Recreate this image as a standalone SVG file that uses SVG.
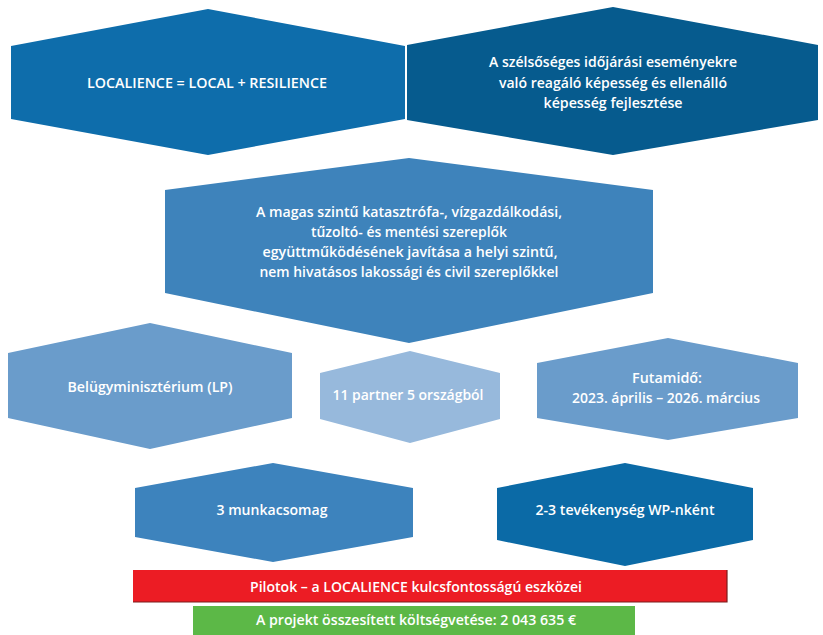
<svg xmlns="http://www.w3.org/2000/svg" width="823" height="635" viewBox="0 0 823 635">
<style>
.t{font-family:"Open Sans","Liberation Sans",Arial,sans-serif;font-weight:600;font-size:15px;fill:#ffffff;text-anchor:middle}
</style>
<rect x="0" y="0" width="823" height="635" fill="#ffffff"/>
<g id="connectors"/>
<g id="node-localience">
<polygon points="11,46 208,9 405,46 405,119 208,155 11,119" fill="#0e6dab"/>
<text class="t" x="207" y="88" textLength="240" lengthAdjust="spacingAndGlyphs">LOCALIENCE = LOCAL + RESILIENCE</text>
</g>
<g id="node-goal">
<polygon points="407,45 613,7 818,45 818,120 613,155 407,120" fill="#065b8e"/>
<text class="t" x="613" y="67" textLength="248" lengthAdjust="spacingAndGlyphs">A szélsőséges időjárási eseményekre</text>
<text class="t" x="613" y="88" textLength="228" lengthAdjust="spacingAndGlyphs">való reagáló képesség és ellenálló</text>
<text class="t" x="613" y="108" textLength="139" lengthAdjust="spacingAndGlyphs">képesség fejlesztése</text>
</g>
<g id="node-cooperation">
<polygon points="165,190 409,158 653,190 653,293 409,343 165,293" fill="#3e83bb"/>
<text class="t" x="409" y="217" textLength="306" lengthAdjust="spacingAndGlyphs">A magas szintű katasztrófa-, vízgazdálkodási,</text>
<text class="t" x="409" y="237" textLength="196" lengthAdjust="spacingAndGlyphs">tűzoltó- és mentési szereplők</text>
<text class="t" x="410" y="257" textLength="295" lengthAdjust="spacingAndGlyphs">együttműködésének javítása a helyi szintű,</text>
<text class="t" x="409" y="277" textLength="299" lengthAdjust="spacingAndGlyphs">nem hivatásos lakossági és civil szereplőkkel</text>
</g>
<g id="node-lead">
<polygon points="8,353 150,323 292,353 292,418 150,449 8,418" fill="#6a9ccb"/>
<text class="t" x="150" y="392" textLength="165" lengthAdjust="spacingAndGlyphs">Belügyminisztérium (LP)</text>
</g>
<g id="node-partners">
<polygon points="320,373 410,351 500,373 500,419 410,443 320,419" fill="#97b9dc"/>
<text class="t" x="408" y="400" textLength="151" lengthAdjust="spacingAndGlyphs">11 partner 5 országból</text>
</g>
<g id="node-duration">
<polygon points="537,363 668,338 798,363 798,418 668,440 537,418" fill="#6a9ccb"/>
<text class="t" x="667" y="383" textLength="70" lengthAdjust="spacingAndGlyphs">Futamidő:</text>
<text class="t" x="666" y="403" textLength="188" lengthAdjust="spacingAndGlyphs">2023. április – 2026. március</text>
</g>
<g id="node-workpackages">
<polygon points="135,488 273,463 413,488 413,537 273,562 135,537" fill="#3d83bd"/>
<text class="t" x="272" y="515" textLength="111" lengthAdjust="spacingAndGlyphs">3 munkacsomag</text>
</g>
<g id="node-activities">
<polygon points="497,488 625,463 753,488 753,540 625,566 497,540" fill="#0b6aa6"/>
<text class="t" x="625" y="515" textLength="179" lengthAdjust="spacingAndGlyphs">2-3 tevékenység WP-nként</text>
</g>
<g id="node-pilots">
<rect x="133" y="570" width="594" height="32" fill="#ec1c24"/>
<path d="M133,602 H727 V570" fill="none" stroke="#7a1d1d" stroke-width="1.2"/>
<text class="t" x="416" y="592" textLength="332" lengthAdjust="spacingAndGlyphs">Pilotok – a LOCALIENCE kulcsfontosságú eszközei</text>
</g>
<g id="node-budget">
<rect x="193" y="606" width="442" height="29" fill="#5cb847"/>
<text class="t" x="416" y="625" textLength="320" lengthAdjust="spacingAndGlyphs">A projekt összesített költségvetése: 2 043 635 €</text>
</g>
</svg>
